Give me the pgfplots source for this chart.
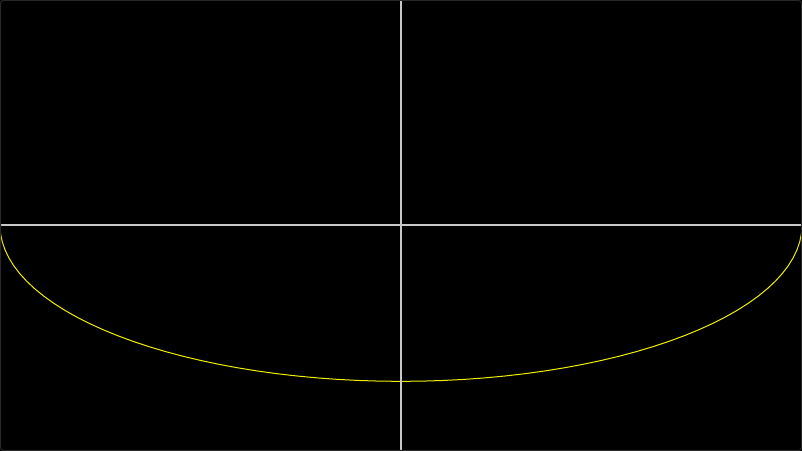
\documentclass[border=0pt]{standalone}
\usepackage{pgfplots}
\pgfplotsset{compat=1.18}
\definecolor{axgrey}{RGB}{200,200,200}
\definecolor{curveyellow}{RGB}{240,240,0}
\definecolor{framegrey}{RGB}{40,40,40}
\begin{document}
\begin{tikzpicture}
\begin{axis}[
  scale only axis,
  width=802pt, height=451pt,
  xmin=-1, xmax=1,
  ymin=-1.446, ymax=1.442,
  axis lines=middle,
  axis line style={-, draw=axgrey, line width=1.6pt},
  xtick=\empty, ytick=\empty,
  axis background/.style={fill=black},
  axis on top,
]
\addplot[curveyellow, line width=1pt, no markers] coordinates {
(-1,0) (-0.99863,-0.05234) (-0.99452,-0.10453) (-0.98769,-0.15643) (-0.97815,-0.20791)
(-0.96593,-0.25882) (-0.95106,-0.30902) (-0.93358,-0.35837) (-0.91355,-0.40674)
(-0.89101,-0.45399) (-0.86603,-0.5) (-0.83867,-0.54464) (-0.80902,-0.58779)
(-0.77715,-0.62932) (-0.74314,-0.66913) (-0.70711,-0.70711) (-0.66913,-0.74314)
(-0.62932,-0.77715) (-0.58779,-0.80902) (-0.54464,-0.83867) (-0.5,-0.86603)
(-0.45399,-0.89101) (-0.40674,-0.91355) (-0.35837,-0.93358) (-0.30902,-0.95106)
(-0.25882,-0.96593) (-0.20791,-0.97815) (-0.15643,-0.98769) (-0.10453,-0.99452)
(-0.05234,-0.99863) (0,-1)
(0.05234,-0.99863) (0.10453,-0.99452) (0.15643,-0.98769) (0.20791,-0.97815)
(0.25882,-0.96593) (0.30902,-0.95106) (0.35837,-0.93358) (0.40674,-0.91355)
(0.45399,-0.89101) (0.5,-0.86603) (0.54464,-0.83867) (0.58779,-0.80902)
(0.62932,-0.77715) (0.66913,-0.74314) (0.70711,-0.70711) (0.74314,-0.66913)
(0.77715,-0.62932) (0.80902,-0.58779) (0.83867,-0.54464) (0.86603,-0.5)
(0.89101,-0.45399) (0.91355,-0.40674) (0.93358,-0.35837) (0.95106,-0.30902)
(0.96593,-0.25882) (0.97815,-0.20791) (0.98769,-0.15643) (0.99452,-0.10453)
(0.99863,-0.05234) (1,0)
};
\end{axis}
\draw[framegrey, line width=1pt, rounded corners=3pt]
  ([shift={(0.5pt,0.5pt)}]current axis.south west) rectangle ([shift={(-0.5pt,-0.5pt)}]current axis.north east);
\pgfresetboundingbox
\useasboundingbox (current axis.south west) rectangle (current axis.north east);
\end{tikzpicture}
\end{document}
